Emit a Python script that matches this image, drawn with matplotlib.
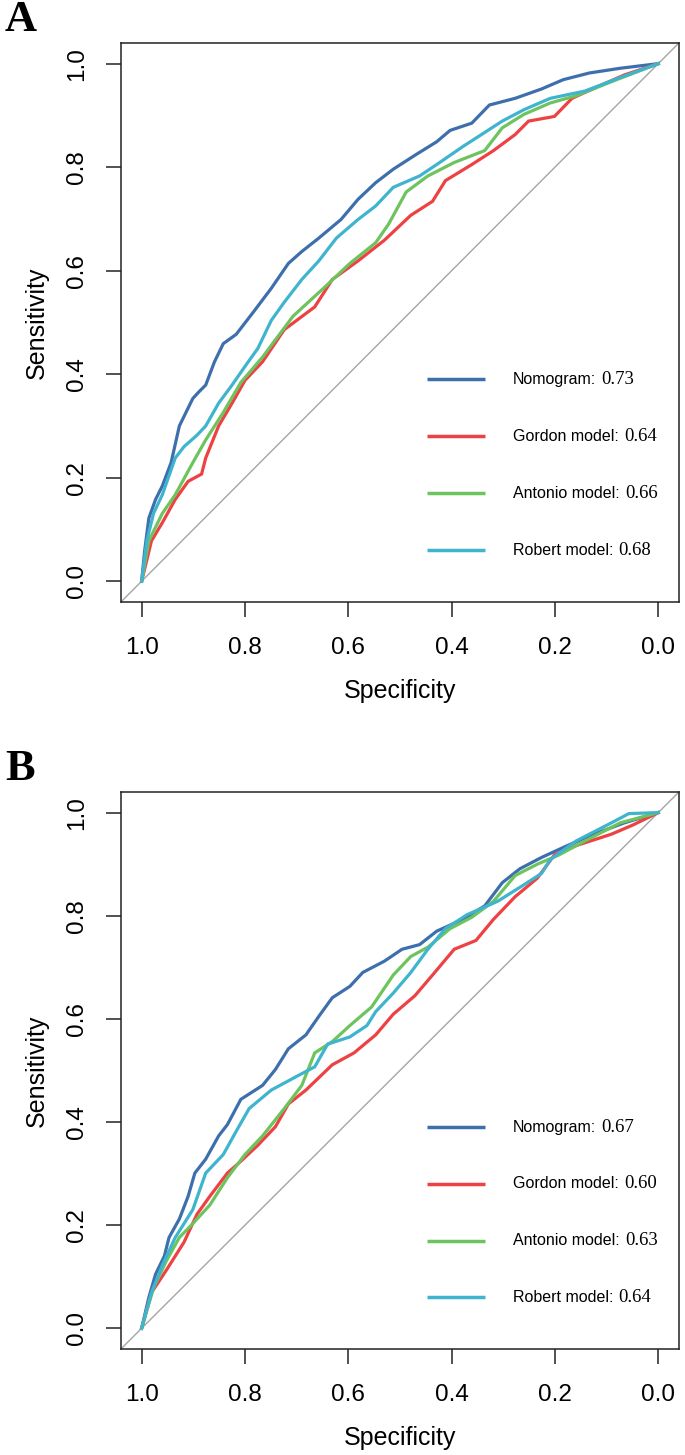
import matplotlib
matplotlib.use('Agg')
import matplotlib.pyplot as plt

# Model names and colours
models = ['Nomogram', 'Gordon model', 'Antonio model', 'Robert model']
colors = ['#3E6FAD', '#EE4143', '#6DC45E', '#3FB4CE']

# AUC values per panel
auc_a = ['0.73', '0.64', '0.66', '0.68']
auc_b = ['0.67', '0.60', '0.63', '0.64']

# Panel A curves (specificity, sensitivity)
a_nomo_spec = [1.0, 0.994, 0.986, 0.973, 0.960, 0.943, 0.927, 0.901, 0.889, 0.876, 0.859, 0.842, 0.817,
               0.783, 0.749, 0.716, 0.690, 0.657, 0.614, 0.581, 0.547, 0.513, 0.471, 0.429, 0.403,
               0.361, 0.327, 0.277, 0.226, 0.184, 0.133, 0.074, 0.0]
a_nomo_sens = [0.0, 0.060, 0.122, 0.158, 0.184, 0.229, 0.300, 0.353, 0.366, 0.379, 0.424, 0.459, 0.477,
               0.521, 0.566, 0.614, 0.637, 0.663, 0.699, 0.738, 0.770, 0.796, 0.823, 0.849, 0.871,
               0.885, 0.920, 0.933, 0.951, 0.969, 0.982, 0.991, 1.0]

a_gord_spec = [1.0, 0.981, 0.960, 0.935, 0.910, 0.884, 0.876, 0.851, 0.825, 0.800, 0.766, 0.724, 0.665,
               0.631, 0.581, 0.530, 0.479, 0.437, 0.412, 0.361, 0.319, 0.277, 0.251, 0.201, 0.167,
               0.116, 0.066, 0.0]
a_gord_sens = [0.0, 0.078, 0.113, 0.158, 0.193, 0.207, 0.238, 0.300, 0.344, 0.388, 0.424, 0.486, 0.530,
               0.583, 0.619, 0.659, 0.707, 0.734, 0.774, 0.805, 0.832, 0.863, 0.889, 0.898, 0.933,
               0.956, 0.978, 1.0]

a_anto_spec = [1.0, 0.986, 0.960, 0.935, 0.901, 0.876, 0.842, 0.808, 0.766, 0.707, 0.648, 0.597, 0.547,
               0.522, 0.488, 0.446, 0.395, 0.336, 0.302, 0.260, 0.209, 0.159, 0.091, 0.0]
a_anto_sens = [0.0, 0.078, 0.131, 0.167, 0.229, 0.273, 0.326, 0.384, 0.433, 0.512, 0.566, 0.614, 0.654,
               0.690, 0.752, 0.783, 0.809, 0.832, 0.876, 0.902, 0.924, 0.938, 0.965, 1.0]

a_robe_spec = [1.0, 0.990, 0.977, 0.960, 0.935, 0.918, 0.893, 0.876, 0.851, 0.825, 0.800, 0.775, 0.749,
               0.724, 0.690, 0.657, 0.623, 0.581, 0.547, 0.513, 0.462, 0.429, 0.378, 0.336, 0.302,
               0.260, 0.209, 0.142, 0.074, 0.0]
a_robe_sens = [0.0, 0.078, 0.131, 0.167, 0.238, 0.260, 0.282, 0.300, 0.344, 0.379, 0.415, 0.450, 0.504,
               0.539, 0.583, 0.619, 0.663, 0.699, 0.725, 0.761, 0.783, 0.805, 0.840, 0.867, 0.889,
               0.911, 0.933, 0.947, 0.973, 1.0]

# Panel B curves
b_nomo_spec = [1.0, 0.986, 0.973, 0.956, 0.947, 0.927, 0.910, 0.897, 0.876, 0.851, 0.834, 0.808, 0.766,
               0.741, 0.716, 0.682, 0.657, 0.631, 0.597, 0.572, 0.530, 0.496, 0.462, 0.429, 0.378,
               0.336, 0.302, 0.268, 0.226, 0.176, 0.125, 0.066, 0.0]
b_nomo_sens = [0.0, 0.060, 0.105, 0.140, 0.176, 0.212, 0.256, 0.301, 0.328, 0.373, 0.395, 0.444, 0.471,
               0.502, 0.542, 0.569, 0.605, 0.641, 0.663, 0.690, 0.712, 0.735, 0.744, 0.770, 0.793,
               0.819, 0.864, 0.891, 0.913, 0.936, 0.958, 0.980, 1.0]

b_gord_spec = [1.0, 0.981, 0.952, 0.918, 0.893, 0.868, 0.834, 0.808, 0.775, 0.741, 0.716, 0.682, 0.631,
               0.589, 0.547, 0.513, 0.471, 0.437, 0.395, 0.353, 0.319, 0.277, 0.234, 0.201, 0.159,
               0.091, 0.049, 0.0]
b_gord_sens = [0.0, 0.069, 0.113, 0.167, 0.221, 0.256, 0.301, 0.324, 0.355, 0.391, 0.435, 0.462, 0.511,
               0.534, 0.569, 0.609, 0.645, 0.685, 0.735, 0.752, 0.793, 0.837, 0.873, 0.918, 0.936,
               0.958, 0.976, 1.0]

b_anto_spec = [1.0, 0.977, 0.952, 0.927, 0.901, 0.868, 0.834, 0.800, 0.766, 0.724, 0.690, 0.665, 0.631,
               0.597, 0.555, 0.513, 0.479, 0.446, 0.403, 0.361, 0.319, 0.277, 0.234, 0.192, 0.142,
               0.074, 0.0]
b_anto_sens = [0.0, 0.078, 0.131, 0.176, 0.203, 0.239, 0.292, 0.337, 0.373, 0.426, 0.471, 0.534, 0.556,
               0.587, 0.623, 0.685, 0.721, 0.739, 0.775, 0.797, 0.828, 0.878, 0.900, 0.918, 0.945,
               0.980, 1.0]

b_robe_spec = [1.0, 0.981, 0.960, 0.935, 0.901, 0.876, 0.842, 0.817, 0.792, 0.749, 0.699, 0.665, 0.640,
               0.597, 0.564, 0.547, 0.513, 0.479, 0.446, 0.412, 0.370, 0.311, 0.268, 0.226, 0.209,
               0.159, 0.091, 0.057, 0.0]
b_robe_sens = [0.0, 0.069, 0.122, 0.176, 0.230, 0.301, 0.337, 0.382, 0.426, 0.462, 0.489, 0.507, 0.551,
               0.565, 0.587, 0.614, 0.650, 0.690, 0.735, 0.775, 0.802, 0.828, 0.855, 0.882, 0.909,
               0.945, 0.980, 0.998, 1.0]

ticks = [0.0, 0.2, 0.4, 0.6, 0.8, 1.0]
tick_labels = ['0.0', '0.2', '0.4', '0.6', '0.8', '1.0']

plt.rcParams['font.family'] = ['Liberation Sans', 'DejaVu Sans']

fig = plt.figure(figsize=(6.85, 14.55), dpi=100)
ax_a = fig.add_axes([0.1766, 0.5863, 0.8146, 0.3842])
ax_b = fig.add_axes([0.1766, 0.0729, 0.8146, 0.3828])

panels = [
    (ax_a, 'A', auc_a, [(a_nomo_spec, a_nomo_sens), (a_gord_spec, a_gord_sens),
                        (a_anto_spec, a_anto_sens), (a_robe_spec, a_robe_sens)]),
    (ax_b, 'B', auc_b, [(b_nomo_spec, b_nomo_sens), (b_gord_spec, b_gord_sens),
                        (b_anto_spec, b_anto_sens), (b_robe_spec, b_robe_sens)]),
]

legend_y = [0.39, 0.28, 0.17, 0.06]

for ax, letter, aucs, curves in panels:
    ax.set_xlim(1.04, -0.04)
    ax.set_ylim(-0.04, 1.04)
    # chance line
    ax.plot([1.04, -0.04], [-0.04, 1.04], color='#A5A5A5', lw=1.0, zorder=1)
    for (spec, sens), col in zip(curves, colors):
        ax.plot(spec, sens, color=col, lw=2.3, solid_joinstyle='miter', zorder=2)

    # hand-made legend like in R
    for name, val, col, ly in zip(models, aucs, colors, legend_y):
        ax.plot([0.447, 0.335], [ly, ly], color=col, lw=2.5, solid_capstyle='butt')
        t = ax.text(0.282, ly, name + ':', fontsize=11.5, va='center', ha='left')
        ax.annotate(val, xy=(1, 0.5), xycoords=t, xytext=(4, 0), textcoords='offset points',
                    va='center', ha='left', fontsize=13.5, family='Liberation Serif')

    ax.set_xticks(ticks)
    ax.set_xticklabels(tick_labels)
    ax.set_yticks(ticks)
    ax.set_yticklabels(tick_labels, rotation=90, va='center')
    ax.tick_params(axis='both', length=11, width=1.1, labelsize=17.5, color='#222222')
    ax.tick_params(axis='x', pad=14)
    ax.tick_params(axis='y', pad=13)
    for s in ax.spines.values():
        s.set_linewidth(1.1)
        s.set_color('#222222')
    ax.set_xlabel('Specificity', fontsize=18, labelpad=15)
    ax.set_ylabel('Sensitivity', fontsize=18, labelpad=12)

    # panel letter
    bb = ax.get_position()
    fig.text(0.03, bb.y1 + 0.016, letter, fontsize=32, fontweight='bold',
             family='Liberation Serif', ha='center', va='center')

fig.savefig('out.png', dpi=100)
